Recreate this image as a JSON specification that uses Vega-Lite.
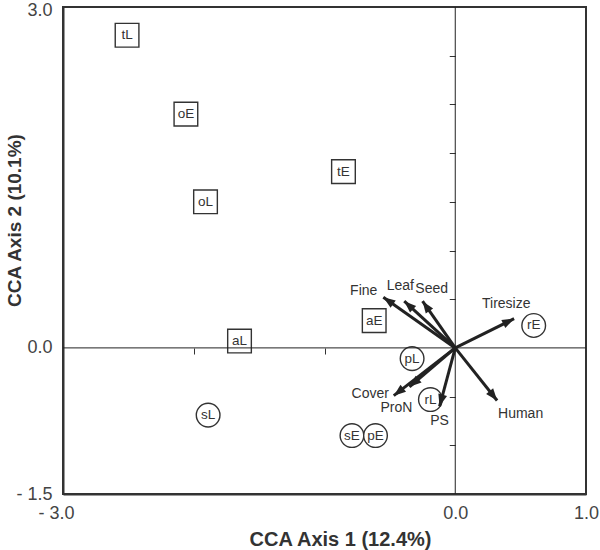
{
  "$schema": "https://vega.github.io/schema/vega-lite/v6.json",
  "width": 523,
  "height": 487,
  "autosize": "none",
  "padding": {"left": 63, "top": 7, "right": 14, "bottom": 56},
  "config": {
    "view": {"stroke": "#333", "strokeWidth": 2},
    "font": "Liberation Sans",
    "axis": {"grid": false}
  },
  "datasets": {
    "sites": [
      {"site": "tL", "x": -2.51, "y": 3.21, "kind": "box"},
      {"site": "oE", "x": -2.06, "y": 2.40, "kind": "box"},
      {"site": "oL", "x": -1.91, "y": 1.50, "kind": "box"},
      {"site": "tE", "x": -0.855, "y": 1.81, "kind": "box"},
      {"site": "aL", "x": -1.65, "y": 0.07, "kind": "box"},
      {"site": "aE", "x": -0.62, "y": 0.28, "kind": "box"},
      {"site": "rE", "x": 0.60, "y": 0.23, "kind": "circle"},
      {"site": "pL", "x": -0.33, "y": -0.11, "kind": "circle"},
      {"site": "rL", "x": -0.19, "y": -0.53, "kind": "circle"},
      {"site": "sE", "x": -0.79, "y": -0.90, "kind": "circle"},
      {"site": "pE", "x": -0.61, "y": -0.90, "kind": "circle"},
      {"site": "sL", "x": -1.89, "y": -0.69, "kind": "circle"}
    ],
    "vectors": [
      {"var": "Fine", "x": -0.55, "y": 0.52, "lx": -0.70, "ly": 0.58},
      {"var": "Leaf", "x": -0.39, "y": 0.48, "lx": -0.42, "ly": 0.64},
      {"var": "Seed", "x": -0.25, "y": 0.48, "lx": -0.18, "ly": 0.60},
      {"var": "Tiresize", "x": 0.45, "y": 0.30, "lx": 0.39, "ly": 0.45},
      {"var": "Human", "x": 0.32, "y": -0.54, "lx": 0.50, "ly": -0.68},
      {"var": "PS", "x": -0.12, "y": -0.60, "lx": -0.12, "ly": -0.75},
      {"var": "Cover", "x": -0.47, "y": -0.49, "lx": -0.65, "ly": -0.47},
      {"var": "ProN", "x": -0.35, "y": -0.40, "lx": -0.45, "ly": -0.62}
    ]
  },
  "layer": [
    {
      "data": {"name": "sites"},
      "mark": {"type": "point", "filled": true, "fill": "white", "stroke": "#333", "strokeWidth": 1.4, "size": 560, "opacity": 1},
      "encoding": {
        "x": {
          "field": "x", "type": "quantitative",
          "scale": {"domain": [-3, 1], "nice": false, "zero": false},
          "axis": {
            "orient": "bottom",
            "title": "CCA Axis 1 (12.4%)",
            "titleFontSize": 20, "titleFontWeight": "bold", "titleColor": "#333",
            "titleX": 277, "titleY": 51, "titleBaseline": "alphabetic",
            "values": [-3, 0, 1],
            "labelExpr": "datum.value == -3 ? '- 3.0' : (datum.value == 0 ? '0.0' : '1.0')",
            "labelFontSize": 18, "labelColor": "#444", "labelPadding": 10,
            "labelOffset": {"condition": {"test": "datum.value == -3", "value": -7}, "value": 0},
            "labelBaseline": "top", "labelFlush": false, "labelOverlap": false,
            "ticks": false, "domainColor": "#333", "domainWidth": 2
          }
        },
        "y": {
          "field": "y", "type": "quantitative",
          "scale": {"domain": [-1.5, 3.5], "nice": false, "zero": false},
          "axis": {
            "orient": "left",
            "title": "CCA Axis 2 (10.1%)",
            "titleFontSize": 19, "titleFontWeight": "bold", "titleColor": "#333",
            "titleX": -43, "titleY": 213, "titleBaseline": "alphabetic",
            "values": [-1.5, 0, 3.5],
            "labelExpr": "datum.value == -1.5 ? '- 1.5' : (datum.value == 0 ? '0.0' : '3.0')",
            "labelFontSize": 18, "labelColor": "#444", "labelPadding": 11,
            "labelOffset": {"condition": {"test": "datum.value == 3.5", "value": 3}, "value": 0},
            "labelFlush": false, "labelOverlap": false,
            "ticks": false, "domainColor": "#333", "domainWidth": 2
          }
        },
        "shape": {
          "field": "kind", "type": "nominal",
          "scale": {"domain": ["box", "circle"], "range": ["square", "circle"]},
          "legend": null
        }
      }
    },
    {
      "data": {"name": "sites"},
      "mark": {"type": "text", "fontSize": 13.5, "color": "#333", "align": "center", "baseline": "middle"},
      "encoding": {
        "x": {"field": "x", "type": "quantitative", "axis": null},
        "y": {"field": "y", "type": "quantitative", "axis": null},
        "text": {"field": "site"}
      }
    },
    {
      "data": {"values": [{}]},
      "mark": {"type": "rule", "strokeWidth": 1, "color": "#222"},
      "encoding": {
        "y": {
          "datum": 0, "type": "quantitative",
          "axis": {
            "orient": "left", "offset": -392.25, "title": null, "domain": false,
            "values": [-1, -0.5, 0.5, 1, 1.5, 2, 2.5, 3], "labels": false, "ticks": true, "tickSize": 6,
            "tickColor": "#333", "tickWidth": 1
          }
        }
      }
    },
    {
      "data": {"values": [{}]},
      "mark": {"type": "rule", "strokeWidth": 1, "color": "#222"},
      "encoding": {
        "x": {
          "datum": 0, "type": "quantitative",
          "axis": {
            "orient": "bottom", "offset": -146, "title": null, "domain": false,
            "values": [-2, -1], "labels": false, "ticks": true, "tickSize": 6,
            "tickColor": "#333", "tickWidth": 1
          }
        }
      }
    },
    {
      "data": {"name": "vectors"},
      "mark": {"type": "rule", "strokeWidth": 3, "color": "#222"},
      "encoding": {
        "x": {"field": "x", "type": "quantitative", "axis": null},
        "y": {"field": "y", "type": "quantitative", "axis": null},
        "x2": {"datum": 0},
        "y2": {"datum": 0}
      }
    },
    {
      "data": {"name": "vectors"},
      "transform": [
        {"calculate": "atan2(datum.x * 130.75, datum.y * 97.4) * 180 / PI", "as": "angle"}
      ],
      "mark": {"type": "point", "shape": "M0,0L-0.75,2L0.75,2Z", "filled": true, "color": "#222", "size": 144, "opacity": 1},
      "encoding": {
        "x": {"field": "x", "type": "quantitative", "axis": null},
        "y": {"field": "y", "type": "quantitative", "axis": null},
        "angle": {"field": "angle", "type": "quantitative", "scale": null}
      }
    },
    {
      "data": {"name": "vectors"},
      "mark": {"type": "text", "fontSize": 14, "color": "#333", "align": "center", "baseline": "middle"},
      "encoding": {
        "x": {"field": "lx", "type": "quantitative", "axis": null},
        "y": {"field": "ly", "type": "quantitative", "axis": null},
        "text": {"field": "var"}
      }
    }
  ],
  "resolve": {"axis": {"x": "independent", "y": "independent"}}
}
